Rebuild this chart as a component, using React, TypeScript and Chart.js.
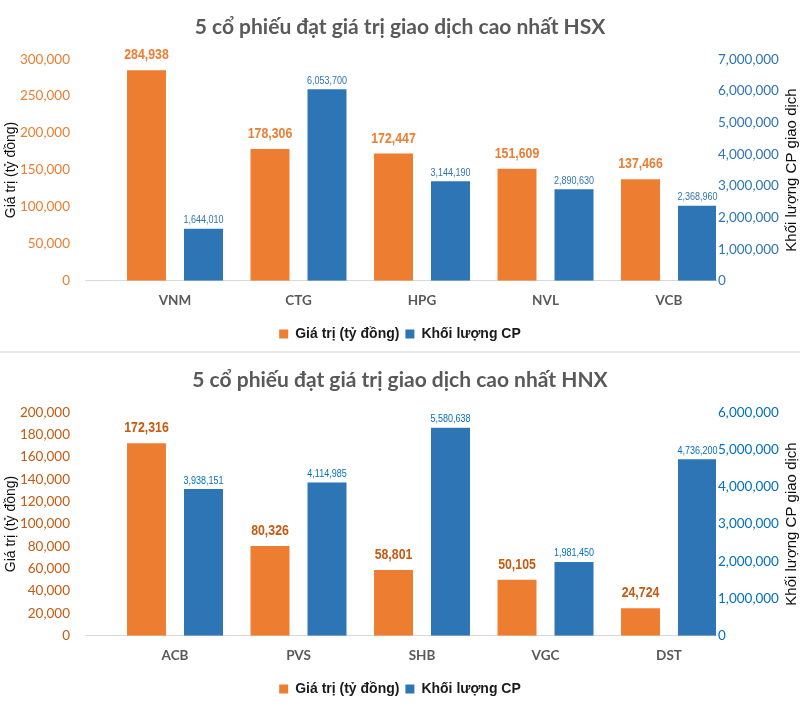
import React, { useEffect, useRef } from 'react';
import { Chart, registerables } from 'chart.js';

Chart.register(...registerables);

// ---------- Data ----------
const hsxTitle = '5 cổ phiếu đạt giá trị giao dịch cao nhất HSX';
const hsxCategories = ['VNM', 'CTG', 'HPG', 'NVL', 'VCB'];
const hsxValues = [284938, 178306, 172447, 151609, 137466];
const hsxVolumes = [1644010, 6053700, 3144190, 2890630, 2368960];
const hsxValueAxis = [0, 300000, 50000];
const hsxVolumeAxis = [0, 7000000, 1000000];

const hnxTitle = '5 cổ phiếu đạt giá trị giao dịch cao nhất HNX';
const hnxCategories = ['ACB', 'PVS', 'SHB', 'VGC', 'DST'];
const hnxValues = [172316, 80326, 58801, 50105, 24724];
const hnxVolumes = [3938151, 4114985, 5580638, 1981450, 4736200];
const hnxValueAxis = [0, 200000, 20000];
const hnxVolumeAxis = [0, 6000000, 1000000];

const seriesNames = ['Giá trị (tỷ đồng)', 'Khối lượng CP'];
const leftAxisTitle = 'Giá trị (tỷ đồng)';
const rightAxisTitle = 'Khối lượng CP giao dịch';

const fmt = (v: number) => Number(v).toLocaleString('en-US');

const barLabels = {
  id: 'barLabels',
  afterDatasetsDraw(chart: any, _args: any, opts: any) {
    const ctx = chart.ctx;
    chart.data.datasets.forEach((ds: any, di: number) => {
      const meta = chart.getDatasetMeta(di);
      const st = opts.styles[di];
      meta.data.forEach((el: any, i: number) => {
        const v = ds.data[i].y;
        ctx.save();
        ctx.translate(el.x, el.y - st.offset);
        ctx.scale(st.scaleX, 1);
        ctx.font = st.font;
        ctx.fillStyle = st.color;
        ctx.textAlign = 'center';
        ctx.textBaseline = 'middle';
        ctx.fillText(fmt(v), 0, 0);
        ctx.restore();
      });
    });
  },
};

const rightTitle = {
  id: 'rightTitle',
  afterDraw(chart: any, _args: any, opts: any) {
    const ctx = chart.ctx;
    const ca = chart.chartArea;
    ctx.save();
    ctx.translate(opts.x, (ca.top + ca.bottom) / 2);
    ctx.rotate(-Math.PI / 2);
    ctx.font = opts.font;
    ctx.fillStyle = opts.color;
    ctx.textAlign = 'center';
    ctx.textBaseline = 'middle';
    ctx.fillText(opts.text, 0, 0);
    ctx.restore();
  },
};

type PanelProps = {
  title: string;
  categories: string[];
  values: number[];
  volumes: number[];
  valueAxis: number[];
  volumeAxis: number[];
  height: number;
  leftTickColor: string;
  rightTickColor: string;
  orangeLabelColor: string;
  blueLabelColor: string;
};

function Panel(p: PanelProps) {
  const ref = useRef<HTMLCanvasElement | null>(null);
  useEffect(() => {
    if (!ref.current) return;
    const spacing = 123.5;
    const firstCenter = 175;
    const chart = new Chart(ref.current, {
      type: 'bar',
      data: {
        datasets: [
          {
            label: seriesNames[0],
            data: p.values.map((v, i) => ({ x: i, y: v })),
            backgroundColor: '#ED7D31',
            yAxisID: 'y',
            categoryPercentage: 0.923,
            barPercentage: 0.684,
          },
          {
            label: seriesNames[1],
            data: p.volumes.map((v, i) => ({ x: i, y: v })),
            backgroundColor: '#2E75B6',
            yAxisID: 'y1',
            categoryPercentage: 0.923,
            barPercentage: 0.684,
          },
        ],
      } as any,
      plugins: [barLabels, rightTitle],
      options: {
        responsive: false,
        animation: false,
        layout: { padding: { left: 0, right: 0, top: 0, bottom: 0 } },
        scales: {
          x: {
            type: 'linear',
            offset: false,
            bounds: 'data',
            min: (85 - firstCenter) / spacing,
            max: (716 - firstCenter) / spacing,
            afterBuildTicks: (s: any) => {
              s.ticks = p.categories.map((_, i) => ({ value: i }));
            },
            ticks: {
              autoSkip: false,
              maxRotation: 0,
              padding: 12,
              color: '#595959',
              font: { family: 'Lato', size: 13.5, weight: 'bold' },
              callback: (v: any) => p.categories[v] ?? '',
            },
            grid: { display: false, drawTicks: false, offset: false },
            border: { display: true, color: '#D9D9D9', width: 1 },
          },
          y: {
            position: 'left',
            min: p.valueAxis[0],
            max: p.valueAxis[1],
            afterFit: (s: any) => {
              s.width = 85;
            },
            ticks: {
              stepSize: p.valueAxis[2],
              padding: 15,
              color: p.leftTickColor,
              font: { family: 'Lato', size: 13.5 },
              callback: (v: any) => fmt(v),
            },
            grid: { display: false, drawTicks: false },
            border: { display: false },
            title: {
              display: true,
              text: leftAxisTitle,
              color: '#0d0d0d',
              font: { family: 'Liberation Sans', size: 14 },
              padding: { top: 3, bottom: 0 },
            },
          },
          y1: {
            position: 'right',
            min: p.volumeAxis[0],
            max: p.volumeAxis[1],
            afterFit: (s: any) => {
              s.width = 84;
            },
            ticks: {
              stepSize: p.volumeAxis[2],
              padding: 2,
              color: p.rightTickColor,
              font: { family: 'Lato', size: 13.5 },
              callback: (v: any) => fmt(v),
            },
            grid: { display: false, drawTicks: false },
            border: { display: false },
          },
        },
        plugins: {
          title: {
            display: true,
            text: p.title,
            color: '#595959',
            font: { family: 'Lato', size: 21, weight: 'bold' },
            padding: { top: 15, bottom: 19 },
          },
          legend: {
            position: 'bottom',
            labels: {
              boxWidth: 9,
              boxHeight: 9,
              padding: 6,
              color: '#1a1a1a',
              font: { family: 'Liberation Sans', size: 14, weight: 'bold' },
            },
          },
          tooltip: { enabled: false },
          barLabels: {
            styles: [
              { font: 'bold 15px "Liberation Sans"', color: p.orangeLabelColor, offset: 15, scaleX: 0.82 },
              { font: '11px "Liberation Sans"', color: p.blueLabelColor, offset: 8.5, scaleX: 0.82 },
            ],
          },
          rightTitle: {
            text: rightAxisTitle,
            x: 792,
            font: '15px "Liberation Sans"',
            color: '#0d0d0d',
          },
        } as any,
      },
    } as any);
    return () => chart.destroy();
  }, []);
  return <canvas ref={ref} width={800} height={p.height} style={{ display: 'block' }} />;
}

export default function App() {
  return (
    <div style={{ position: 'absolute', top: 0, left: 0, width: 800, height: 706, background: '#fff' }}>
      <Panel
        title={hsxTitle}
        categories={hsxCategories}
        values={hsxValues}
        volumes={hsxVolumes}
        valueAxis={hsxValueAxis}
        volumeAxis={hsxVolumeAxis}
        height={351}
        leftTickColor="#ED7D31"
        rightTickColor="#2E75B6"
        orangeLabelColor="#ED7D31"
        blueLabelColor="#2E75B6"
      />
      <div style={{ height: 2, background: '#E8E8E8' }} />
      <Panel
        title={hnxTitle}
        categories={hnxCategories}
        values={hnxValues}
        volumes={hnxVolumes}
        valueAxis={hnxValueAxis}
        volumeAxis={hnxVolumeAxis}
        height={353}
        leftTickColor="#C55A11"
        rightTickColor="#0070C0"
        orangeLabelColor="#C55A11"
        blueLabelColor="#0070C0"
      />
    </div>
  );
}
